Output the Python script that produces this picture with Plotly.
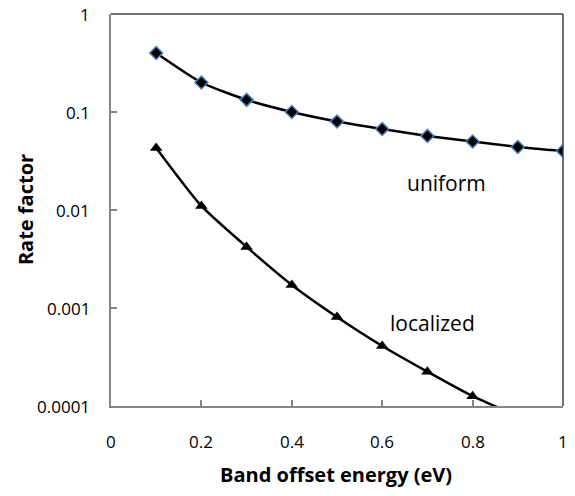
import math
import plotly.graph_objects as go

# Band offset energy (eV)
energy = [0.1, 0.2, 0.3, 0.4, 0.5, 0.6, 0.7, 0.8, 0.9, 1.0]

# Rate factor for the two carrier distributions
uniform = [0.40, 0.20, 0.133, 0.10, 0.080, 0.067, 0.057, 0.050, 0.044, 0.040]
localized = [0.043, 0.011, 0.0042, 0.00172, 0.00081, 0.00041, 0.000224, 0.000126, 0.000079, 0.000050]

y_tickvals = [1e-4, 1e-3, 1e-2, 1e-1, 1]
y_ticktext = ["0.0001", "0.001", "0.01", "0.1", "1"]
x_tickvals = [0, 0.2, 0.4, 0.6, 0.8, 1.0]
x_ticktext = ["0", "0.2", "0.4", "0.6", "0.8", "1"]

FONT = "Open Sans"
AXIS_GRAY = "#868686"
BOX_DARK = "#404040"
TICK_FONT = dict(family=FONT, size=17, color="black")

fig = go.Figure()

fig.add_trace(go.Scatter(
    x=energy, y=uniform, mode="lines+markers", name="uniform",
    line=dict(color="black", width=2.5, shape="spline", smoothing=0.6),
    marker=dict(symbol="diamond", size=10, color="black",
                line=dict(color="#4F81BD", width=1.5)),
    cliponaxis=True,
))

fig.add_trace(go.Scatter(
    x=energy, y=localized, mode="lines+markers", name="localized",
    line=dict(color="black", width=2.5, shape="spline", smoothing=0.6),
    marker=dict(symbol="triangle-up", size=11, color="black"),
    cliponaxis=True,
))

# tick labels, set a little further from the axes than plotly's default
for v, t in zip(x_tickvals, x_ticktext):
    fig.add_annotation(x=v, y=0, xref="x", yref="paper", text=t, showarrow=False,
                       xanchor="center", yanchor="middle", yshift=-35, font=TICK_FONT)
for v, t in zip(y_tickvals, y_ticktext):
    fig.add_annotation(x=0, y=math.log10(v), xref="paper", yref="y", text=t,
                       showarrow=False, xanchor="right", yanchor="middle",
                       xshift=-19, font=TICK_FONT)

# series labels inside the plot
fig.add_annotation(x=0.742, y=-1.72, xref="x", yref="y", text="uniform",
                   showarrow=False, font=dict(family=FONT, size=21, color="black"))
fig.add_annotation(x=0.712, y=-3.15, xref="x", yref="y", text="localized",
                   showarrow=False, font=dict(family=FONT, size=21, color="black"))

# axis titles
fig.add_annotation(x=-0.19, y=0.5, xref="paper", yref="paper", text="<b>Rate factor</b>",
                   textangle=-90, showarrow=False, xanchor="center", yanchor="middle",
                   font=dict(family=FONT, size=20, color="black"))
fig.add_annotation(x=0.497, y=-0.176, xref="paper", yref="paper",
                   text="<b>Band offset energy (eV)</b>", showarrow=False,
                   xanchor="center", yanchor="middle",
                   font=dict(family=FONT, size=20, color="black"))

# darker frame on the top and right edges of the plot area
fig.add_shape(type="line", xref="paper", yref="paper", x0=0, x1=1, y0=1, y1=1,
              line=dict(color=BOX_DARK, width=1.5))
fig.add_shape(type="line", xref="paper", yref="paper", x0=1, x1=1, y0=0, y1=1,
              line=dict(color=BOX_DARK, width=1.5))

fig.update_layout(
    width=575, height=496,
    margin=dict(l=111, r=12, t=14, b=90),
    paper_bgcolor="white", plot_bgcolor="white",
    showlegend=False,
    font=dict(family=FONT, color="black"),
    xaxis=dict(
        range=[0, 1], tickvals=x_tickvals, showticklabels=False,
        showgrid=False, zeroline=False,
        showline=True, linecolor=AXIS_GRAY, linewidth=2,
        ticks="inside", ticklen=6, tickcolor=AXIS_GRAY, tickwidth=1.5,
    ),
    yaxis=dict(
        type="log", range=[-4, 0], tickvals=y_tickvals, showticklabels=False,
        showgrid=False, zeroline=False,
        showline=True, linecolor=AXIS_GRAY, linewidth=2,
        ticks="inside", ticklen=6, tickcolor=AXIS_GRAY, tickwidth=1.5,
    ),
)

fig.write_html("out.html")
